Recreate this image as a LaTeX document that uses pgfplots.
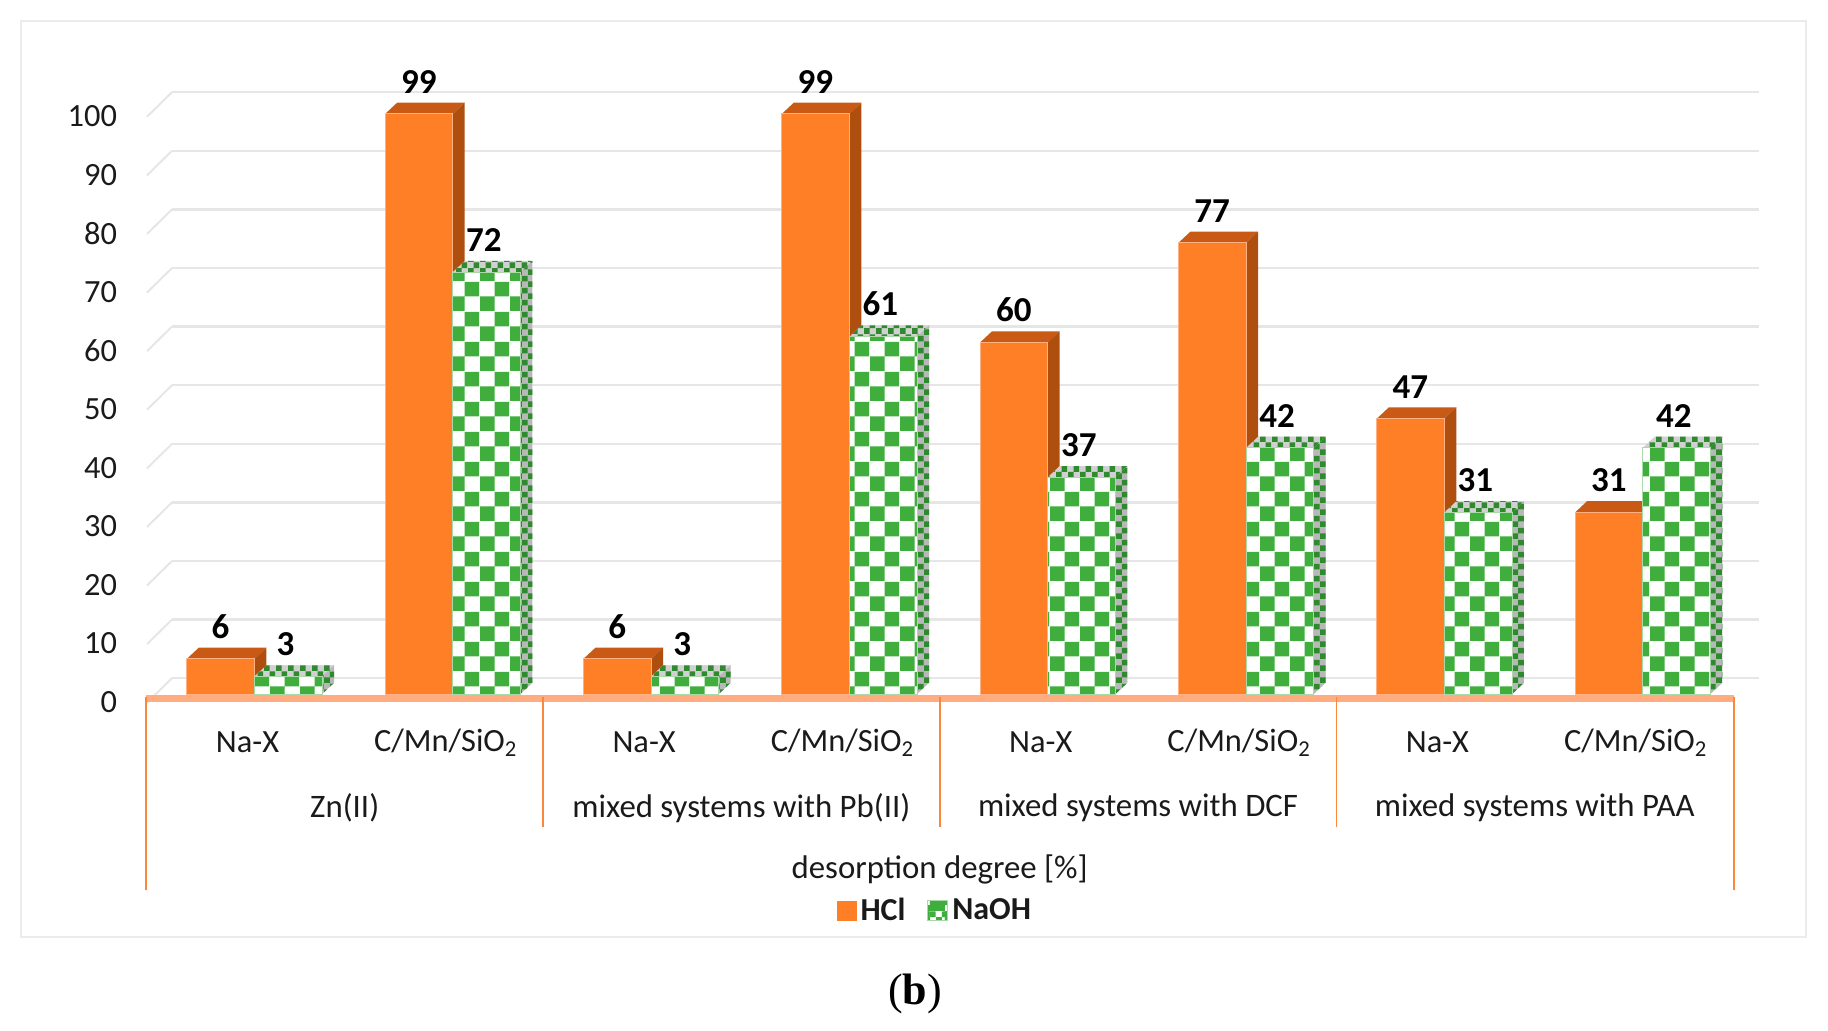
\documentclass[border=0pt]{standalone}
\usepackage{fontspec}
\setmainfont{Carlito}
\newfontfamily\capfont{Liberation Serif}
\usepackage{pgfplots}
\usepackage{pgfplotstable}
\pgfplotsset{compat=1.18}
\usetikzlibrary{patterns}

\definecolor{hclfront}{HTML}{FF7F27}
\definecolor{hcledge}{HTML}{FFB183}
\definecolor{hcltop}{HTML}{C85A16}
\definecolor{hclside}{HTML}{AE4F10}
\definecolor{ckgreen}{HTML}{3FAE3C}
\definecolor{ckdark}{HTML}{2F8A2F}
\definecolor{ckedge}{HTML}{A9D9A6}
\definecolor{gridc}{HTML}{E6E6E6}
\definecolor{framec}{HTML}{EBEBEB}
\definecolor{sepc}{HTML}{F9883C}
\definecolor{bandc}{HTML}{FFAD80}
\definecolor{txt}{HTML}{1A1A1A}

\pgfdeclarepatternformonly{bigchecker}{\pgfqpoint{0pt}{0pt}}{\pgfqpoint{15pt}{15pt}}{\pgfqpoint{15pt}{15pt}}{
  \pgfpathrectangle{\pgfqpoint{0pt}{0pt}}{\pgfqpoint{7.5pt}{7.5pt}}
  \pgfpathrectangle{\pgfqpoint{7.5pt}{7.5pt}}{\pgfqpoint{7.5pt}{7.5pt}}
  \pgfusepath{fill}}
\pgfdeclarepatternformonly{smallchecker}{\pgfqpoint{0pt}{0pt}}{\pgfqpoint{6pt}{6pt}}{\pgfqpoint{6pt}{6pt}}{
  \pgfpathrectangle{\pgfqpoint{0pt}{0pt}}{\pgfqpoint{3pt}{3pt}}
  \pgfpathrectangle{\pgfqpoint{3pt}{3pt}}{\pgfqpoint{3pt}{3pt}}
  \pgfusepath{fill}}

% x = pair number, v = desorption degree
\pgfplotstableread{
x v
0 6
1 99
2 6
3 99
4 60
5 77
6 47
7 31
}\hcltab
\pgfplotstableread{
x v
0 3
1 72
2 3
3 61
4 37
5 42
6 31
7 42
}\naohtab

\def\bw{0.341}   % bar width in x units
\def\ddx{0.06}   % depth of a bar
\def\ddy{1.9}

% top and side of one bar; #1 left edge offset, #2 table, #3 row, #4 top style, #5 side style
\newcommand{\barfaces}[5]{%
  \pgfplotstablegetelem{#3}{v}\of#2%
  \let\val\pgfplotsretval
  \pgfmathsetmacro\xa{#3+#1}%
  \pgfmathsetmacro\xb{\xa+\bw}%
  \pgfmathsetmacro\xc{\xb+\ddx}%
  \pgfmathsetmacro\xd{\xa+\ddx}%
  \pgfmathsetmacro\vt{\val+\ddy}%
  \edef\next{\noexpand\addplot[#4,forget plot] coordinates {(\xa,\val) (\xb,\val) (\xc,\vt) (\xd,\vt)} -- cycle;
    \noexpand\addplot[#5,forget plot] coordinates {(\xb,0) (\xc,\ddy) (\xc,\vt) (\xb,\val)} -- cycle;}%
  \next
}

\tikzset{
  hcltopf/.style={draw=none,fill=hcltop},
  hclsidef/.style={draw=none,fill=hclside},
  naohtopf/.style={draw=none,fill=black!18,postaction={pattern=smallchecker,pattern color=ckdark}},
  naohsidef/.style={draw=none,fill=black!28,postaction={pattern=smallchecker,pattern color=ckdark}},
}
\pgfplotsset{
  swatch/.style={/pgfplots/legend image code/.code={
    \draw[##1,draw=none] (0pt,-5pt) rectangle (10pt,5pt);}},
  checkswatch/.style={/pgfplots/legend image code/.code={
    \fill[white] (0pt,-5pt) rectangle (10pt,5pt);
    \fill[pattern=smallchecker,pattern color=ckgreen] (0pt,-5pt) rectangle (10pt,5pt);}},
  valuelabels/.style={
    nodes near coords,
    every node near coord/.append style={font=\bfseries\fontsize{17.5}{17.5}\selectfont,text=black,inner sep=0pt,anchor=south,yshift=10pt,xshift=#1}},
}

\begin{document}
\begin{tikzpicture}[x=1pt,y=1pt]
\path[use as bounding box] (0,0) rectangle (914,515);
\draw[framec,line width=1pt] (10.5,46.5) rectangle (903,504.5);

\begin{axis}[
    at={(73pt,168pt)}, anchor=south west,
    scale only axis,
    width=794pt, height=293pt,
    xmin=-0.547, xmax=7.46,
    ymin=0, ymax=100,
    clip=false,
    axis line style={draw=none},
    tick style={draw=none},
    /pgf/number format/assume math mode=true,
    ytick={0,10,...,100},
    xtick={0,...,7},
    xticklabels={Na-X,C/Mn/SiO\textsubscript{2},Na-X,C/Mn/SiO\textsubscript{2},Na-X,C/Mn/SiO\textsubscript{2},Na-X,C/Mn/SiO\textsubscript{2}},
    tick label style={font=\fontsize{16.2}{16.2}\selectfont,text=txt},
    xticklabel style={anchor=center,yshift=-24.3pt,xshift=-3.5pt},
    yticklabel style={xshift=-11pt,yshift=-4pt},
    legend columns=2,
    legend style={at={(axis cs:3.435,-37)},anchor=center,draw=none,fill=none,
      font=\bfseries\fontsize{16}{16}\selectfont,text=txt,
      /tikz/every even column/.append style={column sep=9pt}},
]

% gridlines with the short diagonal at the left
\pgfplotsinvokeforeach{0,10,...,100}{
  \addplot[gridc,line width=1.2pt,forget plot] coordinates {(-0.416,#1+2.7) (7.586,#1+2.7)};
  \addplot[gridc,line width=1pt,forget plot] coordinates {(-0.542,#1-1.5) (-0.416,#1+2.7)};
}

% orange bars
\pgfplotsinvokeforeach{0,...,7}{\barfaces{-\bw}{\hcltab}{#1}{hcltopf}{hclsidef}}
\addplot[ybar,swatch,valuelabels=-17pt,bar width=33.8pt,bar shift=-16.9pt,fill=hclfront,draw=hcledge,line width=.4pt] table[x=x,y=v] {\hcltab};
\addlegendentry{HCl}

% green bars
\pgfplotsinvokeforeach{0,...,7}{\barfaces{0}{\naohtab}{#1}{naohtopf}{naohsidef}}
\addplot[ybar,checkswatch,valuelabels=15.5pt,bar width=33.8pt,bar shift=16.9pt,fill=white,draw=ckedge,line width=.4pt,
  postaction={pattern=bigchecker,pattern color=ckgreen}] table[x=x,y=v] {\naohtab};
\addlegendentry{NaOH}

% category frame below the bars
\draw[bandc,line width=3.5pt] (axis cs:-0.547,-0.85) -- (axis cs:7.46,-0.85);
\draw[sepc,line width=.8pt] (axis cs:-0.547,-0.5) -- (axis cs:-0.547,-33.5);
\draw[sepc,line width=.8pt] (axis cs:7.46,-0.5) -- (axis cs:7.46,-33.5);
\draw[sepc,line width=.8pt] (axis cs:1.455,-0.5) -- (axis cs:1.455,-22.7);
\draw[sepc,line width=.8pt] (axis cs:3.455,-0.5) -- (axis cs:3.455,-22.7);
\draw[sepc,line width=.8pt] (axis cs:5.455,-0.5) -- (axis cs:5.455,-22.7);

\begin{scope}[font=\fontsize{16.4}{16.4}\selectfont,text=txt]
\node at (axis cs:0.455,-19.4) {Zn(II)};
\node at (axis cs:2.455,-19.4) {mixed systems with Pb(II)};
\node at (axis cs:4.455,-19.4) {mixed systems with DCF};
\node at (axis cs:6.455,-19.4) {mixed systems with PAA};
\node at (axis cs:3.455,-30) {desorption degree [\%]};
\end{scope}
\end{axis}

\node[font=\capfont\fontsize{22}{22}\selectfont,text=black] at (457.5,18) {(\textbf{b})};
\end{tikzpicture}
\end{document}
